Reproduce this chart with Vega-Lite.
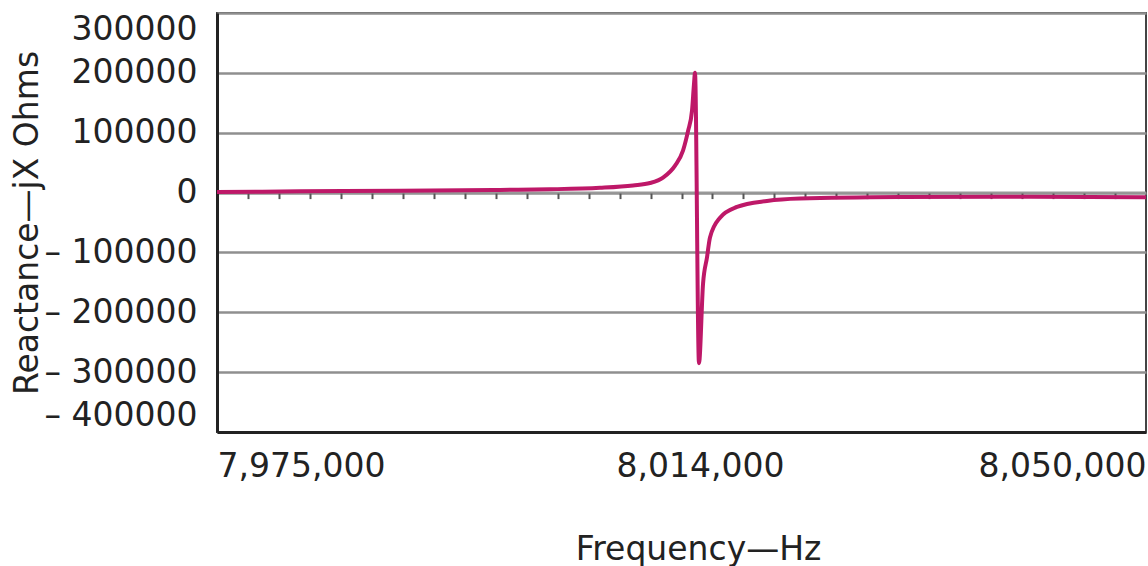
{
  "$schema": "https://vega.github.io/schema/vega-lite/v6.json",
  "autosize": "none",
  "width": 929,
  "height": 419,
  "padding": {"left": 217, "top": 13, "right": 2, "bottom": 134},
  "background": "white",
  "config": {
    "view": {"stroke": "#444", "strokeWidth": 2},
    "axis": {
      "labelFont": "DejaVu Sans",
      "titleFont": "DejaVu Sans",
      "labelColor": "#222",
      "titleColor": "#222",
      "labelFontSize": 33,
      "titleFontSize": 33,
      "titleFontWeight": "normal"
    }
  },
  "datasets": {
    "zero": [
      {"f": 7975000, "v": 0},
      {"f": 8050000, "v": 0}
    ],
    "curve": [
      {"f": 7975000, "v": 1000},
      {"f": 7981700, "v": 2000},
      {"f": 7989770, "v": 3000},
      {"f": 7997850, "v": 4500},
      {"f": 8001880, "v": 5500},
      {"f": 8005920, "v": 8000},
      {"f": 8008590, "v": 12000},
      {"f": 8009960, "v": 16000},
      {"f": 8011010, "v": 25000},
      {"f": 8011980, "v": 45000},
      {"f": 8012620, "v": 70000},
      {"f": 8013030, "v": 103000},
      {"f": 8013350, "v": 137000},
      {"f": 8013510, "v": 182000},
      {"f": 8013590, "v": 200000},
      {"f": 8013910, "v": -285000},
      {"f": 8014240, "v": -152000},
      {"f": 8014560, "v": -108000},
      {"f": 8014800, "v": -75000},
      {"f": 8015610, "v": -42000},
      {"f": 8016980, "v": -24000},
      {"f": 8019400, "v": -14000},
      {"f": 8022070, "v": -10000},
      {"f": 8030140, "v": -7500},
      {"f": 8038210, "v": -7000},
      {"f": 8050000, "v": -8000}
    ]
  },
  "layer": [
    {
      "data": {"name": "zero"},
      "mark": {"type": "line", "color": "#999", "strokeWidth": 2},
      "encoding": {
        "x": {
          "field": "f", "type": "quantitative",
          "scale": {"domain": [7975000, 8050000], "nice": false, "zero": false},
          "axis": {
            "orient": "bottom",
            "offset": -239.4,
            "values": [7977500, 7980000, 7982500, 7985000, 7987500, 7990000, 7992500, 7995000, 7997500, 8000000, 8002500, 8005000, 8007500, 8010000, 8012500, 8015000, 8017500, 8020000, 8022500, 8025000, 8027500, 8030000, 8032500, 8035000, 8037500, 8040000, 8042500, 8045000, 8047500],
            "labels": false,
            "domain": false,
            "grid": false,
            "ticks": true,
            "tickSize": 6,
            "tickWidth": 2,
            "tickColor": "#555",
            "title": null
          }
        },
        "y": {
          "field": "v", "type": "quantitative",
          "scale": {"domain": [-400000, 300000], "nice": false},
          "axis": {
            "values": [-400000, -300000, -200000, -100000, 0, 100000, 200000, 300000],
            "labelExpr": "datum.value < 0 ? '– ' + (-datum.value) : '' + datum.value",
            "labelFlush": true,
            "ticks": false,
            "grid": true,
            "gridColor": "#8f8f8f",
            "gridWidth": 2.5,
            "domainColor": "#222",
            "domainWidth": 3,
            "labelPadding": 20,
            "title": "Reactance—jX Ohms",
            "titlePadding": 0
          }
        }
      }
    },
    {
      "data": {"name": "curve"},
      "mark": {"type": "line", "color": "#be1868", "strokeWidth": 4, "interpolate": "monotone"},
      "encoding": {
        "x": {
          "field": "f", "type": "quantitative",
          "scale": {"domain": [7975000, 8050000], "nice": false, "zero": false},
          "axis": {
            "orient": "bottom",
            "values": [7975000, 8014000, 8050000],
            "format": ",d",
            "labelFlush": true,
            "ticks": false,
            "grid": false,
            "domainColor": "#222",
            "domainWidth": 3,
            "labelPadding": 18,
            "title": "Frequency—Hz",
            "titleX": 481,
            "titlePadding": 50
          }
        },
        "y": {
          "field": "v", "type": "quantitative",
          "scale": {"domain": [-400000, 300000], "nice": false}
        }
      }
    }
  ],
  "resolve": {"axis": {"x": "independent"}}
}
